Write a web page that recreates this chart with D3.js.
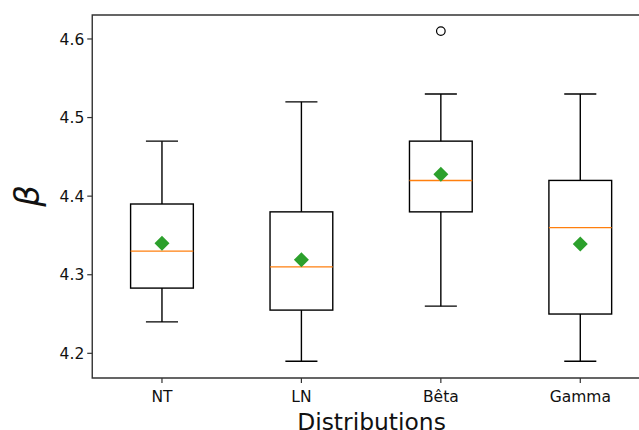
<!DOCTYPE html>
<html><head><meta charset="utf-8">
<script src="https://cdn.jsdelivr.net/npm/d3@7"></script>
<style>body{margin:0;background:#fff}svg{display:block}</style>
</head><body><svg id="c" width="639" height="430"></svg>
<script>
const categories = ["NT", "LN", "Bêta", "Gamma"];
const whiskerLow = [4.24, 4.19, 4.26, 4.19];
const q1 = [4.283, 4.255, 4.38, 4.25];
const median = [4.33, 4.31, 4.42, 4.36];
const q3 = [4.39, 4.38, 4.47, 4.42];
const whiskerHigh = [4.47, 4.52, 4.53, 4.53];
const means = [4.34, 4.319, 4.428, 4.339];
const outliers = [[], [], [4.61], []];
const yTicks = [4.2, 4.3, 4.4, 4.5, 4.6];

const svg = d3.select("#c");
const L = 92.25, R = 650, T = 15, B = 378;
const x = d3.scaleLinear().domain([0.5, 4.5]).range([L, R]);
const y = d3.scaleLinear().domain([4.1686, 4.6305]).range([B, T]);
const font = "'DejaVu Sans', sans-serif";
const boxW = x(1.225) - x(1);
const capW = x(1.115) - x(1);

const g = svg.append("g");
categories.forEach((c, i) => {
  const cx = x(i + 1);
  const gg = g.append("g").attr("stroke", "#000").attr("stroke-width", 1.4).attr("fill", "none");
  gg.append("line").attr("x1", cx).attr("x2", cx).attr("y1", y(whiskerHigh[i])).attr("y2", y(q3[i]));
  gg.append("line").attr("x1", cx).attr("x2", cx).attr("y1", y(q1[i])).attr("y2", y(whiskerLow[i]));
  gg.append("line").attr("x1", cx - capW).attr("x2", cx + capW).attr("y1", y(whiskerHigh[i])).attr("y2", y(whiskerHigh[i]));
  gg.append("line").attr("x1", cx - capW).attr("x2", cx + capW).attr("y1", y(whiskerLow[i])).attr("y2", y(whiskerLow[i]));
  gg.append("rect").attr("x", cx - boxW).attr("width", 2 * boxW).attr("y", y(q3[i])).attr("height", y(q1[i]) - y(q3[i]));
  g.append("line").attr("x1", cx - boxW).attr("x2", cx + boxW).attr("y1", y(median[i])).attr("y2", y(median[i]))
    .attr("stroke", "#ff7f0e").attr("stroke-width", 1.4);
  const my = y(means[i]), s = 7.5;
  g.append("path").attr("d", `M${cx},${my - s}L${cx + s},${my}L${cx},${my + s}L${cx - s},${my}Z`).attr("fill", "#2ca02c");
  outliers[i].forEach(v => {
    g.append("circle").attr("cx", cx).attr("cy", y(v)).attr("r", 4.3).attr("fill", "none").attr("stroke", "#000").attr("stroke-width", 1.2);
  });
});

// spines
const sp = svg.append("g").attr("stroke", "#333").attr("stroke-width", 1.4).attr("fill", "none");
sp.append("path").attr("d", `M${R},${T}H${L}V${B}H${R}`);

// y axis
const ya = svg.append("g");
yTicks.forEach(t => {
  ya.append("line").attr("x1", L - 5).attr("x2", L).attr("y1", y(t)).attr("y2", y(t)).attr("stroke", "#333").attr("stroke-width", 1.2);
  ya.append("text").attr("x", L - 8).attr("y", y(t)).attr("dy", "0.36em").attr("text-anchor", "end")
    .attr("font-family", font).attr("font-size", 15.5).attr("fill", "#111").text(d3.format(".1f")(t));
});
// x axis
categories.forEach((c, i) => {
  const cx = x(i + 1);
  svg.append("line").attr("x1", cx).attr("x2", cx).attr("y1", B).attr("y2", B + 5).attr("stroke", "#333").attr("stroke-width", 1.2);
  svg.append("text").attr("x", cx).attr("y", 402).attr("text-anchor", "middle")
    .attr("font-family", font).attr("font-size", 15.5).attr("fill", "#111").text(c);
});
svg.append("text").attr("x", 371.5).attr("y", 429.5).attr("text-anchor", "middle")
  .attr("font-family", font).attr("font-size", 23.4).attr("fill", "#111").text("Distributions");
svg.append("text").attr("transform", "translate(39,196) rotate(-90)").attr("text-anchor", "middle")
  .attr("font-family", font).attr("font-style", "italic").attr("font-size", 34).attr("fill", "#111").text("β");
</script></body></html>
